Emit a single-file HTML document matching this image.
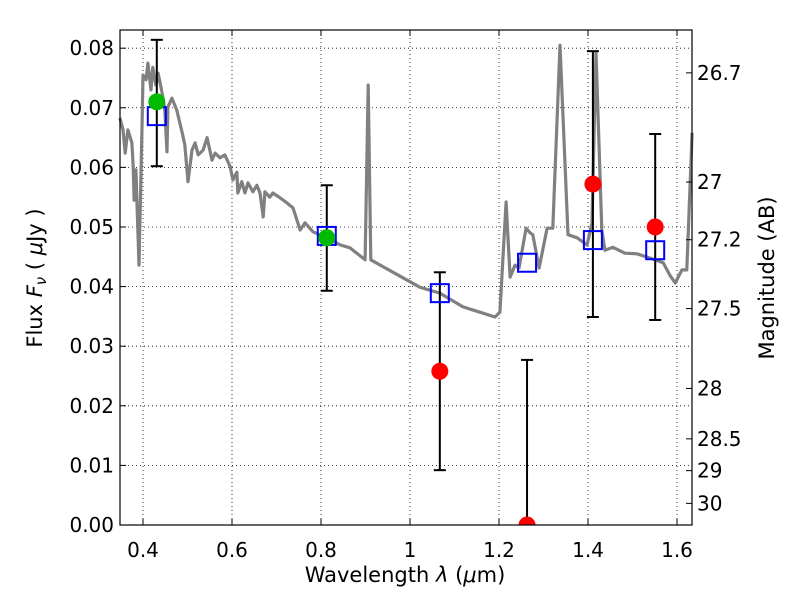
<!DOCTYPE html>
<html><head><meta charset="utf-8"><style>
body{margin:0;background:#fff;}
svg{display:block;font-family:"DejaVu Sans","Liberation Sans",sans-serif;}
</style></head><body>
<svg id="chart" width="800" height="600" viewBox="0 0 800 600">
<rect width="800" height="600" fill="#fff"/>
<g id="grid"></g>
<g id="spec"></g>
<g id="phot"></g>
<rect x="120" y="30" width="572" height="495" fill="none" stroke="#000" stroke-width="1.2"/>
<g id="axes"></g>
<text x="405" y="582" font-size="21" text-anchor="middle">Wavelength  <tspan font-style="italic">λ</tspan> (<tspan font-style="italic">μ</tspan>m)</text>
<text transform="translate(42,278) rotate(-90)" font-size="21" text-anchor="middle">Flux  <tspan font-style="italic">F<tspan font-size="15" dy="4">ν</tspan></tspan><tspan dy="-4">  (  </tspan><tspan font-style="italic">μ</tspan>Jy )</text>
<text transform="translate(774,278) rotate(-90)" font-size="21" text-anchor="middle">Magnitude (AB)</text>
</svg>
<script>
const specWl=[0.348,0.355,0.360,0.366,0.375,0.378,0.380,0.384,0.391,0.398,0.400,0.407,0.411,0.418,0.422,0.429,0.434,0.443,0.449,0.454,0.456,0.465,0.476,0.488,0.494,0.501,0.510,0.517,0.524,0.535,0.544,0.555,0.562,0.573,0.584,0.596,0.602,0.611,0.613,0.622,0.629,0.636,0.647,0.656,0.663,0.670,0.674,0.685,0.692,0.708,0.724,0.737,0.753,0.764,0.782,0.813,0.843,0.865,0.899,0.906,0.912,0.933,0.962,1.022,1.067,1.119,1.157,1.191,1.202,1.216,1.225,1.236,1.245,1.261,1.270,1.276,1.290,1.308,1.321,1.337,1.355,1.375,1.398,1.409,1.418,1.431,1.438,1.456,1.483,1.510,1.539,1.569,1.584,1.596,1.611,1.622,1.634];
const specFlux=[0.0683,0.0663,0.0624,0.0663,0.0641,0.0601,0.0545,0.0596,0.0436,0.0674,0.0755,0.0747,0.0775,0.0730,0.0768,0.0738,0.0758,0.0725,0.0696,0.0626,0.0701,0.0716,0.0696,0.0658,0.0638,0.0576,0.0629,0.0641,0.0621,0.0629,0.0650,0.0612,0.0624,0.0616,0.0621,0.0601,0.0579,0.0592,0.0557,0.0576,0.0557,0.0574,0.0559,0.0570,0.0557,0.0517,0.0559,0.0550,0.0557,0.0549,0.0540,0.0532,0.0495,0.0507,0.0492,0.0482,0.0470,0.0465,0.0445,0.0738,0.0445,0.0436,0.0424,0.0399,0.0389,0.0366,0.0357,0.0349,0.0357,0.0542,0.0416,0.0436,0.0431,0.0498,0.0490,0.0487,0.0431,0.0498,0.0498,0.0805,0.0487,0.0482,0.0470,0.0507,0.0792,0.0495,0.0461,0.0466,0.0456,0.0455,0.0448,0.0440,0.0419,0.0406,0.0428,0.0428,0.0658];
const bandWl=[0.431,0.813,1.067,1.263,1.411,1.551];
const obsFlux=[0.0710,0.0482,0.0258,0.0000,0.0572,0.0500];
const errHi=[0.0814,0.0570,0.0424,0.0277,0.0795,0.0656];
const errLo=[0.0602,0.0393,0.0092,-0.0100,0.0349,0.0344];
const modelFlux=[0.0686,0.0485,0.0389,0.0440,0.0478,0.0461];
const detected=[true,true,false,false,false,false];
const xTicks=[0.4,0.6,0.8,1.0,1.2,1.4,1.6];
const xTickLabels=["0.4","0.6","0.8","1","1.2","1.4","1.6"];
const yTicks=[0,0.01,0.02,0.03,0.04,0.05,0.06,0.07,0.08];
const yTickLabels=["0.00","0.01","0.02","0.03","0.04","0.05","0.06","0.07","0.08"];
const magTicks=[26.7,27,27.2,27.5,28,28.5,29,30];
const magTickLabels=["26.7","27","27.2","27.5","28","28.5","29","30"];

const X0=120,X1=692,Y0=525,Y1=30,XMIN=0.3483,XMAX=1.6337,YMIN=0,YMAX=0.08305;
const sx=v=>X0+(v-XMIN)/(XMAX-XMIN)*(X1-X0);
const sy=v=>Y0-(v-YMIN)/(YMAX-YMIN)*(Y0-Y1);
const NS="http://www.w3.org/2000/svg";
function mk(tag,attrs,parent){const e=document.createElementNS(NS,tag);for(const k in attrs)e.setAttribute(k,attrs[k]);parent.appendChild(e);return e;}
const grid=document.getElementById('grid'),axes=document.getElementById('axes'),spec=document.getElementById('spec'),phot=document.getElementById('phot');

xTicks.forEach((t,i)=>{const x=sx(t);
 let g=mk('line',{x1:x,x2:x,y1:Y1,y2:Y0,stroke:'#000','stroke-width':0.8,'stroke-dasharray':'1,3'},grid);
 
 
 let a=mk('line',{x1:x,x2:x,y1:Y0,y2:Y0-6,stroke:'#000'},axes);
 
 
 let b=mk('line',{x1:x,x2:x,y1:Y1,y2:Y1+6,stroke:'#000'},axes);
 
 
 let l=mk('text',{x:x,y:557,'font-size':20,'text-anchor':'middle'},axes);l.textContent=xTickLabels[i];
 
 
});
yTicks.forEach((t,i)=>{const y=sy(t);
 let g=mk('line',{x1:X0,x2:X1,y1:y,y2:y,stroke:'#000','stroke-width':0.8,'stroke-dasharray':'1,3'},grid);
 
 
 let a=mk('line',{x1:X0,x2:X0+6,y1:y,y2:y,stroke:'#000'},axes);
 
 
 let l=mk('text',{x:114,y:y+7,'font-size':20,'text-anchor':'end'},axes);l.textContent=yTickLabels[i];
 
 
});
magTicks.forEach((m,i)=>{const f=Math.pow(10,(23.9-m)/2.5);const y=sy(f);
 let a=mk('line',{x1:X1,x2:X1-6,y1:y,y2:y,stroke:'#000'},axes);
 
 
 let l=mk('text',{x:697,y:y+7,'font-size':20},axes);l.textContent=magTickLabels[i];
 
 
});

let d=specWl.map((w,i)=>(i?'L':'M')+sx(w).toFixed(1)+','+sy(specFlux[i]).toFixed(1)).join(' ');
let p=mk('path',{d:d,fill:'none',stroke:'#808080','stroke-width':3.2,'stroke-linejoin':'round'},spec);



const cp=mk('clipPath',{id:'clip'},document.getElementById('chart'));
mk('rect',{x:X0,y:Y1,width:X1-X0,height:Y0-Y1},cp);
phot.setAttribute('clip-path','url(#clip)');

bandWl.forEach((w,i)=>{const x=sx(w);
 let e=mk('line',{x1:x,x2:x,y1:sy(errHi[i]),y2:sy(errLo[i]),stroke:'#000','stroke-width':2},phot);
 
 
 [errHi[i],errLo[i]].forEach(v=>{let c=mk('line',{x1:x-6,x2:x+6,y1:sy(v),y2:sy(v),stroke:'#000','stroke-width':2},phot);
  
  });
 let s=mk('rect',{x:x-9,y:sy(modelFlux[i])-9,width:18,height:18,fill:'none',stroke:'#0000ff','stroke-width':2},phot);
 
 
 let c=mk('circle',{cx:x,cy:sy(obsFlux[i]),r:8.5,fill:detected[i]?'#00bb00':'#ff0000'},phot);
 
 
});
</script>
</body></html>
